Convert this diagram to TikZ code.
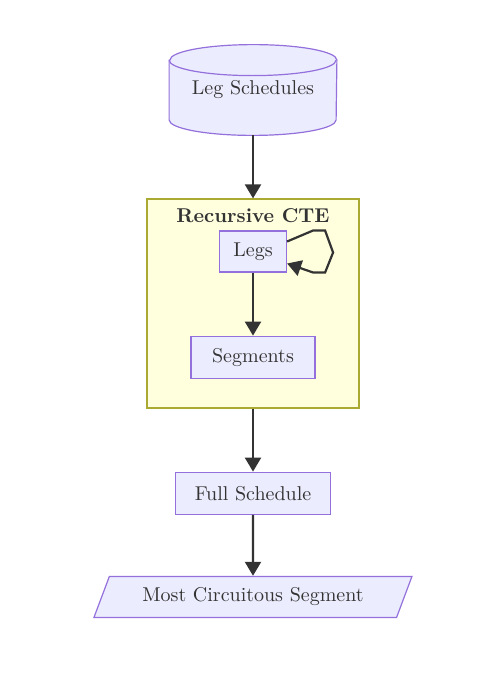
\documentclass[tikz,border=0pt]{standalone}
\usepackage{xcolor}
\usetikzlibrary{shapes, arrows.meta, positioning, shapes.geometric, backgrounds}
\definecolor{nodefill}{HTML}{ECECFF}
\definecolor{nodeline}{HTML}{9370DB}
\definecolor{clusfill}{HTML}{FFFFDE}
\definecolor{clusline}{HTML}{AAAA33}
\definecolor{ink}{HTML}{333333}

\begin{document}
\begin{tikzpicture}[x=0.5pt,y=-0.5pt,
		node distance=31.5pt,
		elem/.style={draw=nodeline,fill=nodefill,line width=0.6pt,rectangle,align=center,text=ink,minimum height=21pt},
		clus/.style={draw=clusline,fill=clusfill,line width=0.6pt,rectangle,minimum width=106pt,minimum height=104.5pt},
		edge/.style={draw=ink,line width=1.1pt,-{Triangle[length=7pt,width=8pt]}}
	]
		\useasboundingbox (0,0) rectangle (492,675);
		\node (lsch) [minimum width=83.5pt,minimum height=45pt,text=ink] at (253,90) {Leg Schedules};
		\begin{scope}[on background layer]
			\path [draw=nodeline,fill=nodefill,line width=0.6pt] ([yshift=-7.75pt]lsch.north west) -- ([yshift=7.75pt]lsch.south west) arc[start angle=180,end angle=360,x radius=41.75pt,y radius=7.75pt] -- ([yshift=-7.75pt]lsch.north east) arc[start angle=0,end angle=180,x radius=41.75pt,y radius=7.75pt] -- cycle;
			\draw [nodeline,line width=0.6pt] ([yshift=-7.75pt]lsch.north west) arc[start angle=180,end angle=360,x radius=41.75pt,y radius=7.75pt];
		\end{scope}
		\node (cte) [clus,below=of lsch] {};
		\node (ctet) [anchor=base,text=ink,font=\bfseries] at ([yshift=-12pt]cte.north) {Recursive CTE};
		\node (legs) [elem,minimum width=33.5pt,minimum height=20.5pt,below=16pt of cte.north] {Legs};
		\node (segs) [elem,minimum width=62pt,below=of legs] {Segments};
		\node (fsch) [elem,minimum width=77.5pt,below=of cte] {Full Schedule};
		\node (mcs) [elem,trapezium,trapezium left angle=64,trapezium right angle=116,trapezium stretches body=true,minimum width=159pt,minimum height=20.5pt,below=30.5pt of fsch] {Most Circuitous Segment};
	
		\draw [edge] (lsch) -- (cte);
		\draw [edge] ([yshift=5pt]legs.east) -- ++(26,-11) -- ++(12,0) -- ++(8,22) -- ++(-8,20) -- ++(-12,0) -- ([yshift=-6pt]legs.east);
		\draw [edge] (legs) -- (segs);
		\draw [edge] (cte) -- (fsch);
		\draw [edge] (fsch) -- (mcs);
	\end{tikzpicture}
\end{document}
